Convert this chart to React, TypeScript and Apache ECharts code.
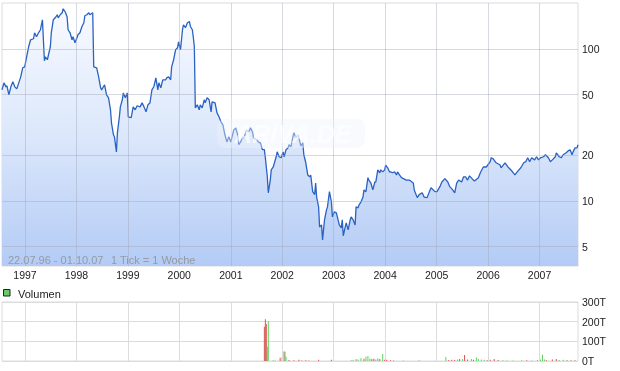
import React, { useEffect, useRef } from "react";
import * as echarts from "echarts";

// Weekly ticks from 22.07.96 to 01.10.07 (week index since start)
const startDate = "1996-07-22";
const endDate = "2007-10-01";
const yearTicks = [1997, 1998, 1999, 2000, 2001, 2002, 2003, 2004, 2005, 2006, 2007];
const priceTickValues = [5, 10, 20, 50, 100];
const volumeTickLabels = ["0T", "100T", "200T", "300T"];

const priceWeeks = [
  0, 2, 4, 5, 7, 9, 11, 13, 15, 17, 19, 21, 23, 25, 27, 29, 32, 33, 35, 37,
  39, 41, 43, 44, 46, 49, 50, 52, 54, 56, 57, 59, 61, 62, 64, 66, 67, 69, 71, 72,
  74, 76, 77, 79, 81, 83, 84, 86, 88, 89, 92, 93, 96, 98, 100, 101, 104, 106, 108, 110,
  111, 113, 114, 116, 117, 119, 120, 122, 123, 125, 127, 128, 131, 133, 135, 137, 140, 142, 144, 146,
  148, 150,
  152, 154, 156, 158, 159, 161, 163, 166, 167, 169, 171, 172, 174, 176, 178, 179, 181, 183, 184, 186,
  188, 190, 191, 193, 194, 195, 196, 198, 200, 201, 203, 205, 206, 208, 210, 212, 213, 216, 218, 220,
  222, 224, 226, 228, 230, 232, 235, 237, 239, 240, 242, 244, 245, 248, 250, 252, 254, 255, 258, 261,
  262, 264, 266, 267, 269, 270, 272, 273, 275, 278, 279, 281, 283, 285, 286, 288, 290, 291, 293, 295,
  296, 298, 300, 301, 303,
  305, 306, 308, 310, 312, 313, 315, 317, 318, 319, 321, 322, 324, 325, 327, 329, 330, 332, 334, 335,
  337, 339, 340, 342, 344, 345, 346, 348, 349, 351, 353, 354, 356, 358, 359, 361, 362, 364, 366, 367,
  369, 371, 372, 374, 376, 378, 379, 381, 383, 384, 386, 388, 389, 391, 393, 394, 396, 398, 400, 401,
  403, 405,
  410, 413, 417, 418, 421, 423, 426, 428, 431, 434, 435, 439, 441, 444, 446, 449, 452, 454, 457, 459,
  461, 463, 466, 468, 470, 472, 474, 478, 479, 483, 485, 488, 491, 495, 496, 498, 501, 505, 506, 510,
  513, 517, 520, 523, 526, 529, 531, 533, 535, 537, 540, 542, 544, 546, 549, 551, 554, 556, 558, 561,
  562, 565, 567, 569, 572, 574, 576, 578, 579, 581, 583, 584,
];

const prices = [
  53.7, 59.7, 56.2, 57.1, 49.8, 56.2, 60.7, 56.2, 54.5, 59.7, 65.4, 75.0, 76.1, 88.6, 103.1, 114.6, 116.4, 127.4, 119.9, 127.4,
  133.4, 155.1, 83.4, 88.6, 84.7, 103.1, 127.4, 155.1, 159.9, 167.4, 159.9, 167.4, 172.5, 183.3, 175.2, 162.4, 133.4, 127.4, 114.6, 119.9,
  109.5, 118.1, 123.6, 127.4, 139.6, 148.3, 164.9, 167.4, 172.5, 167.4, 172.5, 76.1, 75.0, 65.4, 55.4, 53.7, 58.0, 49.8, 47.6, 39.7,
  32.6, 27.2, 26.4, 21.0, 28.0, 35.7, 41.5, 46.2, 51.3, 47.6, 51.3, 35.7, 35.2, 41.5, 39.7, 42.2, 41.5, 44.1, 41.5, 38.5,
  42.8, 44.0,
  53.7, 56.5, 64.4, 53.7, 59.7, 55.4, 62.5, 62.5, 64.4, 65.4, 62.5, 76.1, 84.7, 98.5, 101.5, 111.2, 98.5, 133.4, 143.8, 137.5,
  148.3, 151.2, 140.2, 133.4, 118.1, 103.5, 40.9, 42.8, 39.7, 42.8, 40.9, 46.2, 44.1, 47.6, 46.2, 38.5, 44.8, 44.1, 37.9, 35.7,
  33.1, 31.6, 27.2, 24.4, 26.4, 24.4, 29.3, 30.2, 27.2, 23.4, 24.4, 26.4, 25.6, 29.3, 28.4, 30.2, 28.4, 26.0, 25.2, 24.1,
  24.1, 21.7, 21.7, 19.2, 14.4, 11.3, 13.7, 16.0, 16.7, 19.5, 21.0, 19.5, 19.2, 21.0, 19.5, 21.7, 22.3, 23.4, 22.7, 26.4,
  28.0, 26.0, 27.2, 26.0, 23.0,
  24.1, 20.1, 17.8, 14.8, 14.4, 14.8, 11.5, 11.0, 13.1, 10.6, 9.13, 6.74, 6.95, 5.54, 7.5, 8.73, 9.13, 11.5, 9.85, 7.85,
  8.47, 8.34, 7.85, 6.95, 6.64, 7.5, 5.89, 6.74, 7.17, 6.44, 7.5, 7.85, 7.5, 6.95, 9.13, 9.0, 9.41, 9.85, 10.6, 11.8,
  11.5, 14.2, 13.7, 13.1, 11.8, 13.3, 13.3, 16.0, 15.3, 16.0, 15.5, 16.0, 17.2, 16.5, 15.5, 15.5, 15.3, 15.5, 14.8, 15.5,
  14.8, 14.2,
  13.7, 13.7, 13.1, 11.8, 10.5, 11.0, 11.3, 10.6, 10.5, 11.8, 12.2, 11.5, 11.5, 12.4, 13.3, 14.0, 13.3, 12.4, 11.8, 11.3,
  13.1, 13.7, 13.3, 14.4, 14.4, 13.7, 14.6, 13.7, 13.5, 14.2, 15.3, 16.7, 16.7, 18.1, 19.2, 18.9, 17.8, 17.2, 16.5, 17.8,
  16.7, 15.7, 14.8, 15.7, 16.5, 17.8, 18.1, 19.2, 18.1, 19.2, 18.6, 19.5, 18.6, 19.2, 19.5, 20.1, 19.2, 18.1, 18.6, 19.5,
  20.7, 19.5, 19.2, 20.1, 20.7, 21.3, 21.7, 20.1, 21.0, 22.3, 22.3, 23.4,
];

// Volume (in thousand = T); up: 1 = green, 0 = red
const volWeeks = [
  266, 267, 268, 269, 270, 275, 277, 282, 284, 286, 287, 288, 291, 296, 301, 304, 308, 311, 321, 334,
  354, 356, 359, 361, 364, 367, 369, 371, 373, 375, 377, 379, 381, 383, 386, 388, 390, 394, 397, 407,
  423, 450, 453, 456, 459, 462, 464, 467, 469, 472, 476, 478, 481, 483, 486, 489, 492, 495, 499, 503,
  508, 512, 518, 527, 532, 537, 543, 546, 548, 550, 552, 558, 562, 565, 569, 573, 577, 581,
];
const volValues = [
  174, 212, 188, 73, 203, 4, 3, 17, 20, 48, 47, 22, 5, 4, 6, 3, 4, 3, 6, 6,
  4, 5, 10, 8, 15, 12, 22, 25, 13, 10, 12, 8, 14, 10, 36, 6, 6, 4, 3, 3,
  4, 20, 5, 6, 5, 8, 10, 10, 30, 8, 10, 6, 18, 10, 8, 6, 4, 6, 10, 5,
  4, 3, 3, 4, 4, 3, 5, 8, 32, 8, 4, 8, 10, 5, 6, 4, 5, 4,
];
const volUp = [
  0, 0, 0, 1, 1, 1, 1, 0, 1, 0, 1, 1, 0, 0, 0, 0, 0, 0, 0, 0,
  1, 1, 1, 1, 1, 0, 1, 1, 1, 0, 0, 1, 1, 0, 1, 0, 0, 0, 0, 1,
  1, 1, 0, 0, 0, 1, 0, 1, 0, 0, 1, 0, 1, 1, 1, 1, 0, 0, 0, 0,
  1, 1, 1, 1, 0, 1, 1, 1, 1, 1, 0, 0, 0, 1, 1, 0, 1, 0,
];

const FONT = "Liberation Sans, Arial, sans-serif";

export default function App() {
  const ref = useRef<HTMLDivElement>(null);

  useEffect(() => {
    if (!ref.current) return;
    const chart = echarts.init(ref.current, undefined, { renderer: "svg" });
    const start = Date.parse(startDate + "T00:00:00Z");
    const end = Date.parse(endDate + "T00:00:00Z");
    const WEEK = 7 * 86400000;
    const yearTs = yearTicks.map((y) => Date.UTC(y, 0, 1));

    const priceData = priceWeeks.map((w, i) => [start + w * WEEK, prices[i]]);
    const volData = volWeeks.map((w, i) => ({
      value: [start + w * WEEK, volValues[i]],
      itemStyle: { color: volUp[i] ? "#5fd35f" : "#d95555" },
    }));

    const gridLine = "rgba(160,165,180,0.42)";

    chart.setOption({
      animation: false,
      grid: [
        { left: 2, right: 42, top: 3, bottom: 105, show: true, borderColor: "#dcdcdc", borderWidth: 1 },
        { left: 2, right: 42, top: 302, bottom: 10, show: true, borderColor: "#dcdcdc", borderWidth: 1 },
      ],
      xAxis: [
        {
          type: "value",
          gridIndex: 0,
          min: start,
          max: end,
          axisLine: { show: false },
          axisTick: { show: false },
          splitLine: { show: false },
          axisLabel: {
            customValues: yearTs,
            formatter: (v: number) => String(new Date(v).getUTCFullYear()),
            color: "#222",
            fontSize: 10.5,
            fontFamily: FONT,
            margin: 3,
            showMinLabel: true,
            showMaxLabel: true,
            hideOverlap: false,
          },
        },
        {
          type: "value",
          gridIndex: 1,
          min: start,
          max: end,
          axisLine: { show: false },
          axisTick: { show: false },
          splitLine: { show: false },
          axisLabel: { show: false },
        },
      ],
      yAxis: [
        {
          type: "log",
          gridIndex: 0,
          min: 3.73,
          max: 200,
          axisLine: { show: false },
          axisTick: { show: false },
          splitLine: { show: false },
          axisLabel: { show: false },
        },
        {
          type: "value",
          gridIndex: 1,
          position: "right",
          min: 0,
          max: 300,
          interval: 100,
          axisLine: { show: false },
          axisTick: { show: false },
          splitLine: { show: true, lineStyle: { color: "#dcdcdc", width: 1 } },
          axisLabel: {
            formatter: (v: number) => volumeTickLabels[Math.round(v / 100)],
            color: "#222",
            fontSize: 10.5,
            fontFamily: FONT,
            margin: 4,
          },
        },
      ],
      series: [
        {
          type: "line",
          xAxisIndex: 0,
          yAxisIndex: 0,
          data: priceData,
          showSymbol: false,
          symbol: "none",
          lineStyle: { color: "#2a62c4", width: 1.3 },
          areaStyle: {
            origin: "start",
            opacity: 1,
            color: new echarts.graphic.LinearGradient(0, 0, 0, 1, [
              { offset: 0, color: "#f8faff" },
              { offset: 0.5, color: "#dbe7fb" },
              { offset: 1, color: "#b3cbf5" },
            ]),
          },
          markLine: {
            silent: true,
            symbol: ["none", "none"],
            animation: false,
            lineStyle: { color: gridLine, width: 1, type: "solid" },
            data: [
              ...priceTickValues.map((v) => ({
                yAxis: v,
                label: {
                  show: true,
                  position: "end",
                  formatter: String(v),
                  color: "#222",
                  fontSize: 10.5,
                  fontFamily: FONT,
                  distance: 4,
                },
              })),
              ...yearTs.map((t) => ({ xAxis: t, label: { show: false } })),
            ],
          },
        },
        {
          type: "bar",
          xAxisIndex: 1,
          yAxisIndex: 1,
          data: volData,
          barWidth: 1,
          markLine: {
            silent: true,
            symbol: ["none", "none"],
            animation: false,
            lineStyle: { color: "#dcdcdc", width: 1, type: "solid" },
            label: { show: false },
            data: yearTs.map((t) => ({ xAxis: t })),
          },
        },
      ],
      graphic: [
        {
          type: "group",
          silent: true,
          z: 100,
          children: [
            {
              type: "rect",
              z: 100,
              shape: { x: 217, y: 119, width: 148, height: 29, r: 8 },
              style: { fill: "rgba(240,243,250,0.4)" },
            },
            {
              type: "text",
              z: 101,
              style: {
                text: "ARIVA.DE",
                x: 293,
                y: 134,
                align: "center",
                verticalAlign: "middle",
                font: "italic bold 25px " + FONT,
                fill: "rgba(255,255,255,0.6)",
              },
            },
          ],
        },
        {
          type: "text",
          silent: true,
          z: 100,
          style: {
            text: "22.07.96 - 01.10.07",
            x: 8,
            y: 260,
            verticalAlign: "middle",
            font: "11px " + FONT,
            fill: "#959aa4",
          },
        },
        {
          type: "text",
          silent: true,
          z: 100,
          style: {
            text: "1 Tick = 1 Woche",
            x: 111,
            y: 260,
            verticalAlign: "middle",
            font: "11px " + FONT,
            fill: "#959aa4",
          },
        },
        {
          type: "rect",
          silent: true,
          z: 100,
          shape: { x: 3.5, y: 289.5, width: 6.5, height: 6.5 },
          style: { fill: "#66cc66", stroke: "#222", lineWidth: 1 },
        },
        {
          type: "text",
          silent: true,
          z: 100,
          style: {
            text: "Volumen",
            x: 18,
            y: 293.5,
            verticalAlign: "middle",
            font: "11px " + FONT,
            fill: "#222",
          },
        },
      ],
    });

    return () => chart.dispose();
  }, []);

  return (
    <div
      ref={ref}
      style={{ position: "fixed", left: 0, top: 0, width: 620, height: 371 }}
    />
  );
}
